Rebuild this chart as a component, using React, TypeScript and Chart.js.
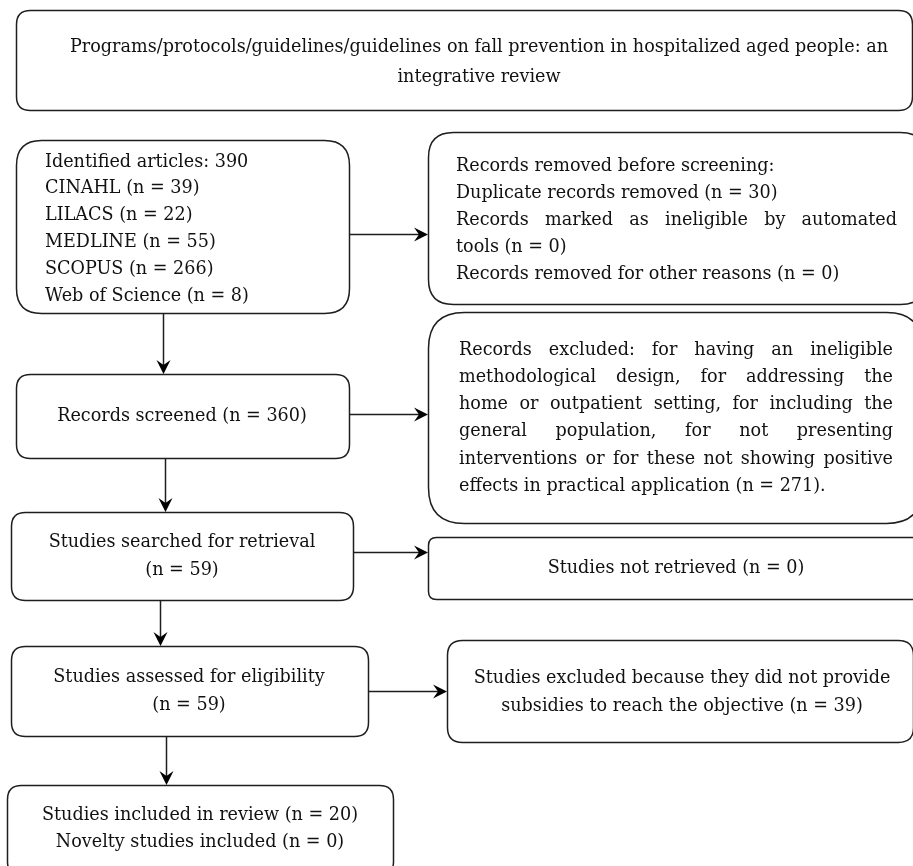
import React, { useEffect, useRef } from "react";
import { Chart, registerables } from "chart.js";

Chart.register(...registerables);

// ---------- data ----------
const TITLE_LINES = [
  "Programs/protocols/guidelines/guidelines on fall prevention in hospitalized aged people: an",
  "integrative review",
];
const TOTAL_IDENTIFIED = 390;
const DATABASES = ["CINAHL", "LILACS", "MEDLINE", "SCOPUS", "Web of Science"];
const DATABASE_COUNTS = [39, 22, 55, 266, 8];
const REMOVED_COUNTS = [30, 0, 0]; // duplicates, automated tools, other reasons
const SCREENED = 360;
const EXCLUDED_SCREENING = 271;
const SOUGHT = 59;
const NOT_RETRIEVED = 0;
const ASSESSED = 59;
const EXCLUDED_ELIGIBILITY = 39;
const INCLUDED = 20;
const NOVELTY = 0;

// ---------- text content built from data ----------
const identifiedLines = [
  `Identified articles: ${TOTAL_IDENTIFIED}`,
  ...DATABASES.map((d, i) => `${d} (n = ${DATABASE_COUNTS[i]})`),
];
const removedLines = [
  "Records removed before screening:",
  `Duplicate records removed (n = ${REMOVED_COUNTS[0]})`,
  "Records marked as ineligible by automated",
  `tools (n = ${REMOVED_COUNTS[1]})`,
  `Records removed for other reasons (n = ${REMOVED_COUNTS[2]})`,
];
const excludedLines = [
  "Records excluded: for having an ineligible",
  "methodological design, for addressing the",
  "home or outpatient setting, for including the",
  "general population, for not presenting",
  "interventions or for these not showing positive",
  `effects in practical application (n = ${EXCLUDED_SCREENING}).`,
];

// ---------- layout (pixel space of the hidden scales) ----------
type Box = {
  x0: number; y0: number; x1: number; y1: number; r: number;
  lines: string[]; align: "left" | "center" | "justify";
  tx: number; tx2?: number; ty: number; lh: number; justify?: number[];
};

const BOXES: Box[] = [
  { x0: 16, y0: 10, x1: 912, y1: 110, r: 14, lines: TITLE_LINES, align: "center", tx: 479, ty: 47, lh: 30 },
  { x0: 16, y0: 140, x1: 349, y1: 313, r: 25, lines: identifiedLines, align: "left", tx: 45, ty: 162, lh: 26.8 },
  { x0: 428, y0: 132, x1: 925, y1: 304, r: 25, lines: removedLines, align: "justify", tx: 456, tx2: 897, ty: 166, lh: 27, justify: [2] },
  { x0: 16, y0: 374, x1: 349, y1: 458, r: 14, lines: [`Records screened (n = ${SCREENED})`], align: "center", tx: 182, ty: 416, lh: 27 },
  { x0: 428, y0: 312, x1: 922, y1: 523, r: 36, lines: excludedLines, align: "justify", tx: 459, tx2: 893, ty: 350, lh: 27.3, justify: [0, 1, 2, 3, 4] },
  { x0: 11, y0: 512, x1: 353, y1: 600, r: 14, lines: ["Studies searched for retrieval", `(n = ${SOUGHT})`], align: "center", tx: 182, ty: 542, lh: 28 },
  { x0: 428, y0: 537, x1: 930, y1: 599, r: 8, lines: [`Studies not retrieved (n = ${NOT_RETRIEVED})`], align: "center", tx: 676, ty: 568, lh: 27 },
  { x0: 11, y0: 646, x1: 368, y1: 736, r: 14, lines: ["Studies assessed for eligibility", `(n = ${ASSESSED})`], align: "center", tx: 189, ty: 677, lh: 28.5 },
  { x0: 447, y0: 640, x1: 913, y1: 742, r: 15, lines: ["Studies excluded because they did not provide", `subsidies to reach the objective (n = ${EXCLUDED_ELIGIBILITY})`], align: "center", tx: 682, ty: 678, lh: 28.5 },
  { x0: 7, y0: 785, x1: 393, y1: 875, r: 14, lines: [`Studies included in review (n = ${INCLUDED})`, `Novelty studies included (n = ${NOVELTY})`], align: "center", tx: 200, ty: 815, lh: 27 },
];

const ARROWS: [number, number, number, number][] = [
  [349, 234, 428, 234],
  [163, 313, 163, 374],
  [349, 414, 428, 414],
  [165, 458, 165, 512],
  [353, 552, 428, 552],
  [160, 600, 160, 646],
  [368, 691, 447, 691],
  [166, 736, 166, 785],
];

const FONT = '17.6px "DejaVu Serif"';
const LINE_COLOR = "#1e1e1e";
const TEXT_COLOR = "#111111";

function roundRect(ctx: CanvasRenderingContext2D, x0: number, y0: number, x1: number, y1: number, r: number) {
  ctx.beginPath();
  ctx.moveTo(x0 + r, y0);
  ctx.lineTo(x1 - r, y0);
  ctx.quadraticCurveTo(x1, y0, x1, y0 + r);
  ctx.lineTo(x1, y1 - r);
  ctx.quadraticCurveTo(x1, y1, x1 - r, y1);
  ctx.lineTo(x0 + r, y1);
  ctx.quadraticCurveTo(x0, y1, x0, y1 - r);
  ctx.lineTo(x0, y0 + r);
  ctx.quadraticCurveTo(x0, y0, x0 + r, y0);
  ctx.closePath();
}

const flowPlugin = {
  id: "flow",
  afterDraw(chart: any) {
    const ctx: CanvasRenderingContext2D = chart.ctx;
    const xs = chart.scales.x;
    const ys = chart.scales.y;
    const X = (v: number) => xs.getPixelForValue(v);
    const Y = (v: number) => ys.getPixelForValue(v);
    ctx.save();
    ctx.fillStyle = "#ffffff";
    ctx.fillRect(0, 0, chart.width, chart.height);

    // boxes
    for (const b of BOXES) {
      roundRect(ctx, X(b.x0) + 0.5, Y(b.y0) + 0.5, X(b.x1) + 0.5, Y(b.y1) + 0.5, b.r);
      ctx.fillStyle = "#ffffff";
      ctx.fill();
      ctx.strokeStyle = LINE_COLOR;
      ctx.lineWidth = 1.5;
      ctx.stroke();

      ctx.font = FONT;
      ctx.fillStyle = TEXT_COLOR;
      ctx.textBaseline = "middle";
      b.lines.forEach((line, i) => {
        const y = Y(b.ty + i * b.lh);
        if (b.align === "center") {
          ctx.textAlign = "center";
          ctx.fillText(line, X(b.tx), y);
        } else if (b.align === "justify" && b.justify && b.justify.includes(i) && b.tx2) {
          ctx.textAlign = "left";
          const words = line.split(" ");
          const total = words.reduce((s, w) => s + ctx.measureText(w).width, 0);
          const gap = (X(b.tx2) - X(b.tx) - total) / (words.length - 1);
          let x = X(b.tx);
          for (const w of words) {
            ctx.fillText(w, x, y);
            x += ctx.measureText(w).width + gap;
          }
        } else {
          ctx.textAlign = "left";
          ctx.fillText(line, X(b.tx), y);
        }
      });
    }

    // arrows
    ctx.strokeStyle = LINE_COLOR;
    ctx.fillStyle = "#000000";
    ctx.lineWidth = 1.5;
    for (const [ax, ay, bx, by] of ARROWS) {
      const x1 = X(ax), y1 = Y(ay), x2 = X(bx), y2 = Y(by);
      const ang = Math.atan2(y2 - y1, x2 - x1);
      const L = 14, W = 7, N = 9;
      const sx = x1 === x2 ? Math.round(x1) + 0.5 : x1;
      const sy = y1 === y2 ? Math.round(y1) + 0.5 : y1;
      const tx = x1 === x2 ? Math.round(x2) + 0.5 : x2;
      const ty = y1 === y2 ? Math.round(y2) + 0.5 : y2;
      ctx.beginPath();
      ctx.moveTo(sx, sy);
      ctx.lineTo(tx - Math.cos(ang) * N, ty - Math.sin(ang) * N);
      ctx.stroke();
      const bxp = tx - Math.cos(ang) * L, byp = ty - Math.sin(ang) * L;
      const nx = -Math.sin(ang), ny = Math.cos(ang);
      ctx.beginPath();
      ctx.moveTo(tx, ty);
      ctx.lineTo(bxp + nx * W, byp + ny * W);
      ctx.lineTo(tx - Math.cos(ang) * N, ty - Math.sin(ang) * N);
      ctx.lineTo(bxp - nx * W, byp - ny * W);
      ctx.closePath();
      ctx.fill();
    }
    ctx.restore();
  },
};

export default function App() {
  const ref = useRef<HTMLCanvasElement | null>(null);
  useEffect(() => {
    if (!ref.current) return;
    const chart = new Chart(ref.current, {
      type: "scatter",
      data: { datasets: [{ data: [], pointRadius: 0 }] },
      options: {
        animation: false,
        responsive: false,
        devicePixelRatio: 1,
        layout: { padding: 0 },
        events: [],
        plugins: { legend: { display: false }, tooltip: { enabled: false } },
        scales: {
          x: { type: "linear", min: 0, max: 913, display: false },
          y: { type: "linear", min: 0, max: 866, reverse: true, display: false },
        },
      },
      plugins: [flowPlugin],
    });
    return () => chart.destroy();
  }, []);
  return (
    <div style={{ position: "fixed", left: 0, top: 0, width: 913, height: 866, background: "#fff" }}>
      <canvas ref={ref} width={913} height={866} style={{ display: "block" }} />
    </div>
  );
}
